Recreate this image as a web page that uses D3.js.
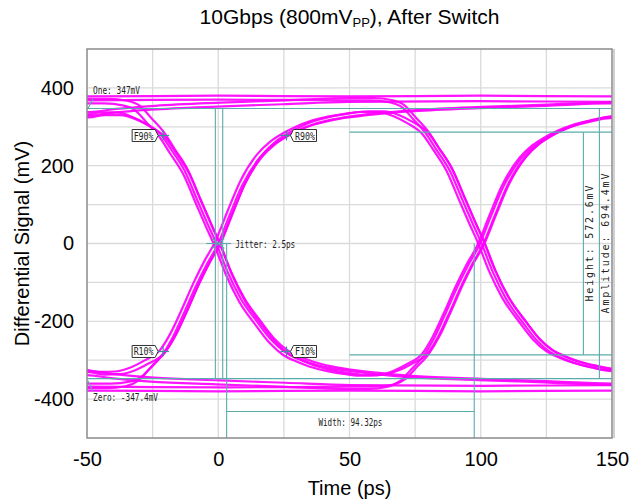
<!DOCTYPE html>
<html>
<head>
<meta charset="utf-8">
<script src="https://cdn.jsdelivr.net/npm/d3@7"></script>
<style>
  body { margin: 0; background: #fff; }
  svg { display: block; font-family: "Liberation Sans", Arial, sans-serif; }
  .mono { font-family: "DejaVu Sans Mono", monospace; font-size: 10px; fill: #222; }
</style>
</head>
<body>
<svg id="chart"></svg>
<script>
// axis + grid values
const xTicks = [-50, 0, 50, 100, 150];
const yTicks = [-400, -200, 0, 200, 400];
const xGrid = [-25, 0, 25, 50, 75, 100, 125];
const yGrid = [-400, -300, -200, -100, 0, 100, 200, 300, 400];
const crossings = [0, 100]; // ps

// edge shapes around one crossing: [ps from crossing, mV]
// T = coming out of a recent transition, S = settled level
const riseT = [[-50,-328],[-44,-334],[-38,-333],[-32,-322],[-27,-305],[-21,-278],[-17,-235],[-13,-178],[-8,-102],[-4,-48],[0,0],[4.5,75],[9.5,155],[16,225],[21,258],[26,280],[31,297],[36,310],[43,322],[50,330]];
const riseS = [[-50,-366],[-42,-366],[-35,-361],[-30,-346],[-26,-318],[-21,-281],[-17,-236],[-13,-178],[-8,-102],[-4,-48],[0,0],[4.5,75],[9.5,155],[16,225],[21,258],[26,280],[31,297],[36,310],[43,322],[50,330]];
const fallT = [[-50,328],[-44,334],[-38,334],[-32,323],[-27,306],[-21,277],[-17,238],[-12,185],[-7,107],[-3,45],[0,0],[4.5,-77],[9.5,-145],[16,-207],[21,-250],[26,-280],[31,-297],[36,-310],[43,-322],[50,-330]];
const fallS = [[-50,366],[-42,366],[-35,361],[-30,347],[-26,318],[-21,280],[-17,238],[-12,185],[-7,107],[-3,45],[0,0],[4.5,-77],[9.5,-145],[16,-207],[21,-250],[26,-280],[31,-297],[36,-310],[43,-322],[50,-330]];
const highT = [[-50,330],[-40,338],[-25,346],[0,354],[25,360],[50,366]];
const highS = [[-50,366],[0,368],[50,366]];
const lowT = [[-50,-330],[-40,-338],[-25,-347],[0,-354],[25,-360],[50,-366]];
const lowS = [[-50,-366],[0,-368],[50,-366]];

// which shape sits at crossing 0 and at crossing 100, per trace
const tracePatterns = [
  ["riseT","fallT"], ["riseT","highT"], ["riseS","fallT"], ["riseS","highT"],
  ["fallT","riseT"], ["fallT","lowT"], ["fallS","riseT"], ["fallS","lowT"],
  ["highT","fallS"], ["highT","highS"], ["highS","fallS"], ["highS","highS"],
  ["lowT","riseS"], ["lowT","lowS"], ["lowS","riseS"], ["lowS","lowS"]
];
const traceJitter = [-1.2, 0.6, 1.2, -0.4, 0.8, -0.9, -1.4, 0.3, 1.0, -0.5, 0.2, 0, -0.8, 0.5, 1.3, 0];
const traceOffset = [4, -3, 6, -6, -4, 3, -6, 6, 8, -2, 2, 12, -8, 2, -2, -12];

// scope measurements
const oneLevel = 347, zeroLevel = -347.4;
const eyeHeight = 572.6, amplitude = 694.4;
const jitterEdges = [-1.1, 1.7];
const widthEdges = [3.2, 97.52];
const widthLevel = -432;
const heightSpan = [50, 150];
const heightMarkerT = 139.1, amplitudeMarkerT = 145.2;
const markerNames = ["F90%", "R90%", "R10%", "F10%"];
const markerTimes = [-21, 26, -21, 26];
const markerLevels = [277.6, 277.6, -277.6, -277.6];

const width = 636, height = 502;
const plot = {left: 87, right: 612, top: 49, bottom: 438};
const magenta = "#ff00ff", teal = "#5aabab";
const labelSize = 20;

const svg = d3.select("#chart").attr("width", width).attr("height", height);

const x = d3.scaleLinear().domain([-50, 150]).range([plot.left, plot.right]);
const y = d3.scaleLinear().domain([-500, 500]).range([plot.bottom, plot.top]);

svg.append("defs").append("clipPath").attr("id", "plotClip")
  .append("rect")
  .attr("x", plot.left).attr("y", plot.top)
  .attr("width", plot.right - plot.left).attr("height", plot.bottom - plot.top);

// grid
const grid = svg.append("g").attr("stroke", "#dadada").attr("stroke-width", 1.3);
grid.selectAll(".vg").data(xGrid).enter().append("line")
  .attr("x1", d => x(d)).attr("x2", d => x(d))
  .attr("y1", plot.top).attr("y2", plot.bottom);
grid.selectAll(".hg").data(yGrid).enter().append("line")
  .attr("x1", plot.left).attr("x2", plot.right)
  .attr("y1", d => y(d)).attr("y2", d => y(d));

// traces
const segments = {riseT, riseS, fallT, fallS, highT, highS, lowT, lowS};

function buildTrace(i) {
  const [a, b] = tracePatterns[i];
  let pts = segments[a].map(([t, v]) => [t + crossings[0], v])
    .concat(segments[b].slice(1).map(([t, v]) => [t + crossings[1], v]))
    .map(([t, v]) => [t + traceJitter[i], v + traceOffset[i]]);
  const first = pts[0], last = pts[pts.length - 1];
  return [[first[0] - 5, first[1]], ...pts, [last[0] + 5, last[1]]];
}

const line = d3.line()
  .x(d => x(d[0]))
  .y(d => y(d[1]))
  .curve(d3.curveMonotoneX);

svg.append("g")
  .attr("clip-path", "url(#plotClip)")
  .selectAll("path")
  .data(tracePatterns.map((p, i) => buildTrace(i)))
  .enter()
  .append("path")
  .attr("d", line)
  .attr("fill", "none")
  .attr("stroke", magenta)
  .attr("stroke-width", 2.2)
  .attr("opacity", 0.92);

// measurement overlay
const ann = svg.append("g").attr("stroke", teal).attr("stroke-width", 1.1).attr("fill", "none");
const hline = (v, t0, t1) => ann.append("line").attr("x1", x(t0)).attr("x2", x(t1)).attr("y1", y(v)).attr("y2", y(v));
const vline = (t, v0, v1) => ann.append("line").attr("x1", x(t)).attr("x2", x(t)).attr("y1", y(v0)).attr("y2", y(v1));

hline(oneLevel, -50, 150);
hline(zeroLevel, -50, 150);
hline(eyeHeight / 2, heightSpan[0], heightSpan[1]);
hline(-eyeHeight / 2, heightSpan[0], heightSpan[1]);
vline(heightMarkerT, eyeHeight / 2, -eyeHeight / 2);
vline(amplitudeMarkerT, oneLevel, zeroLevel);
jitterEdges.forEach(t => vline(t, oneLevel, zeroLevel));
widthEdges.forEach(t => vline(t, 0, -500));
hline(widthLevel, widthEdges[0], widthEdges[1]);

// crossing star
const cx = x(0), cy = y(0);
ann.append("line").attr("x1", cx - 12).attr("x2", cx + 13).attr("y1", cy).attr("y2", cy);
ann.append("line").attr("x1", cx - 6).attr("x2", cx + 6).attr("y1", cy - 5).attr("y2", cy + 5);
ann.append("line").attr("x1", cx - 6).attr("x2", cx + 6).attr("y1", cy + 5).attr("y2", cy - 5);

// leaders for One / Zero labels
ann.append("line").attr("x1", x(-50) + 1).attr("y1", y(oneLevel)).attr("x2", x(-50) + 6).attr("y2", y(oneLevel) - 10);
ann.append("line").attr("x1", x(-50) + 1).attr("y1", y(zeroLevel) + 2).attr("x2", x(-50) + 6).attr("y2", y(zeroLevel) + 13);

// edge markers
markerNames.forEach((name, i) => {
  const mx = x(markerTimes[i]), my = y(markerLevels[i]);
  const leftSide = name === "F90%" || name === "R10%";
  svg.append("g").attr("stroke", "#3c8f9c").attr("stroke-width", 1.2)
    .call(g => {
      g.append("line").attr("x1", mx - 6).attr("x2", mx + 6).attr("y1", my).attr("y2", my);
      g.append("line").attr("x1", mx).attr("x2", mx).attr("y1", my - 5).attr("y2", my + 5);
    });
  const h = 12, w = 23;
  let pts;
  if (leftSide) {
    const tip = mx - 5, r = tip - 3, l = r - w;
    pts = [[l, my - h / 2], [r, my - h / 2], [tip, my], [r, my + h / 2], [l, my + h / 2]];
  } else {
    const tip = mx + 4, l = tip + 3, r = l + w;
    pts = [[l, my - h / 2], [r, my - h / 2], [r, my + h / 2], [l, my + h / 2], [tip, my]];
  }
  svg.append("polygon")
    .attr("points", pts.map(p => p.join(",")).join(" "))
    .attr("fill", "#fff").attr("stroke", "#333").attr("stroke-width", 1);
  const lx = leftSide ? mx - 5 - 3 - w / 2 : mx + 4 + 3 + w / 2;
  svg.append("text").attr("class", "mono")
    .attr("x", lx).attr("y", my + 4)
    .attr("text-anchor", "middle")
    .attr("textLength", 20).attr("lengthAdjust", "spacingAndGlyphs")
    .text(name);
});

// measurement texts
const monoText = (tx, ty, str, len, anchor) => svg.append("text").attr("class", "mono")
  .attr("x", tx).attr("y", ty).attr("text-anchor", anchor || "start")
  .attr("textLength", len).attr("lengthAdjust", "spacingAndGlyphs").text(str);

monoText(x(-50) + 6, y(oneLevel) - 15, `One: ${oneLevel}mV`, 47);
monoText(x(-50) + 6, y(zeroLevel) + 22, `Zero: ${zeroLevel}mV`, 65);
monoText(cx + 17, cy + 4, "Jitter: 2.5ps", 60);
monoText((x(widthEdges[0]) + x(widthEdges[1])) / 2, y(widthLevel) + 14, `Width: ${(widthEdges[1] - widthEdges[0]).toFixed(2)}ps`, 64, "middle");

svg.append("text").attr("class", "mono")
  .attr("transform", `translate(${x(heightMarkerT) + 10},${y(0)}) rotate(-90)`)
  .attr("text-anchor", "middle")
  .attr("textLength", 116).attr("lengthAdjust", "spacing")
  .text(`Height: ${eyeHeight}mV`);
svg.append("text").attr("class", "mono")
  .attr("transform", `translate(${x(amplitudeMarkerT) + 10},${y(0)}) rotate(-90)`)
  .attr("text-anchor", "middle")
  .attr("textLength", 140).attr("lengthAdjust", "spacing")
  .text(`Amplitude: ${amplitude}mV`);

// frame
svg.append("rect")
  .attr("x", plot.left).attr("y", plot.top)
  .attr("width", plot.right - plot.left).attr("height", plot.bottom - plot.top)
  .attr("fill", "none").attr("stroke", "#8a8a8a").attr("stroke-width", 1.5);
svg.append("line")
  .attr("x1", plot.right + 2).attr("x2", plot.right + 2)
  .attr("y1", plot.top).attr("y2", plot.bottom)
  .attr("stroke", "#d0d0d0").attr("stroke-width", 2);

// axes (plain hyphen minus like the source)
const plain = d => String(d);
const xAxis = svg.append("g")
  .attr("transform", `translate(0,${plot.bottom})`)
  .call(d3.axisBottom(x).tickValues(xTicks).tickFormat(plain).tickSize(0).tickPadding(14));
const yAxis = svg.append("g")
  .attr("transform", `translate(${plot.left},0)`)
  .call(d3.axisLeft(y).tickValues(yTicks).tickFormat(plain).tickSize(0).tickPadding(13));
[xAxis, yAxis].forEach(a => {
  a.select(".domain").remove();
  a.selectAll("text")
    .attr("font-family", "Liberation Sans, Arial, sans-serif")
    .attr("font-size", labelSize)
    .attr("fill", "#000");
});

svg.append("text")
  .attr("x", (plot.left + plot.right) / 2).attr("y", 495)
  .attr("text-anchor", "middle").attr("font-size", labelSize)
  .text("Time (ps)");

svg.append("text")
  .attr("transform", `translate(29,${(plot.top + plot.bottom) / 2}) rotate(-90)`)
  .attr("text-anchor", "middle").attr("font-size", labelSize)
  .text("Differential Signal (mV)");

const title = svg.append("text")
  .attr("x", (plot.left + plot.right) / 2).attr("y", 24)
  .attr("text-anchor", "middle").attr("font-size", 21);
title.append("tspan").text("10Gbps (800mV");
title.append("tspan").attr("font-size", 13).attr("dy", 3).text("PP");
title.append("tspan").attr("dy", -3).text("), After Switch");
</script>
</body>
</html>
